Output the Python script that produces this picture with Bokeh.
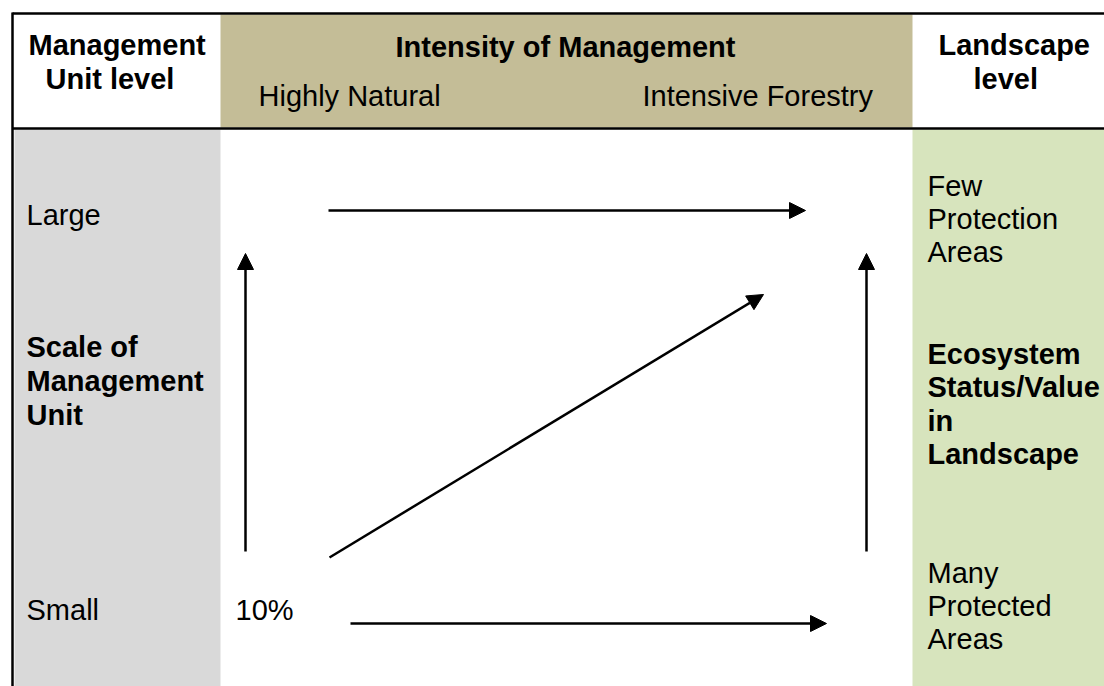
from bokeh.plotting import figure
from bokeh.models import Range1d, Arrow, NormalHead
from bokeh.core.properties import value
from bokeh.embed import file_html
from bokeh.resources import INLINE

# ---- content ----
header_left = ["Management", "Unit level"]
header_mid_title = "Intensity of Management"
header_mid_low = "Highly Natural"
header_mid_high = "Intensive Forestry"
header_right = ["Landscape", "level"]

left_top = "Large"
left_mid = ["Scale of", "Management", "Unit"]
left_bottom = "Small"
pct_label = "10%"

right_top = ["Few", "Protection", "Areas"]
right_mid = ["Ecosystem", "Status/Value", "in", "Landscape"]
right_bottom = ["Many", "Protected", "Areas"]

# arrows: (x_start, y_start, x_end, y_end) in page pixels
arrows_x0 = [328, 350, 245, 866, 329]
arrows_y0 = [210, 623, 551, 551, 557]
arrows_x1 = [805, 826, 245, 866, 763]
arrows_y1 = [210, 623, 253, 253, 294]

W, H = 1104, 686
p = figure(width=W, height=H, output_backend="svg", toolbar_location=None,
           x_range=Range1d(0, W), y_range=Range1d(H, 0),
           min_border=0)
p.axis.visible = False
p.grid.visible = False
p.outline_line_color = None
p.background_fill_color = "white"
p.border_fill_color = "white"

GRAY = "#d9d9d9"
TAN = "#c4bd97"
GREEN = "#d7e4bd"

# coloured regions
p.quad(left=[220], right=[912], top=[14], bottom=[127], fill_color=TAN, line_color=None)
p.quad(left=[14], right=[220], top=[129], bottom=[700], fill_color=GRAY, line_color=None)
p.quad(left=[912], right=[1110], top=[129], bottom=[700], fill_color=GREEN, line_color=None)

# border lines
p.segment(x0=[12, 12, 12], y0=[13, 128, 12], x1=[1110, 1110, 12], y1=[13, 128, 700],
          line_color="black", line_width=2.5)

FONT = value("Liberation Sans")
FS = "29px"
DY = 11  # baseline correction

def txt(xs, ys, texts, bold=False, align="left"):
    p.text(x=xs, y=[y - DY for y in ys], text=texts, text_font=FONT, text_font_size=FS,
           text_font_style="bold" if bold else "normal", text_color="black",
           text_align=align, text_baseline="alphabetic")

# header
txt([28, 45], [55, 89], header_left, bold=True)
txt([395], [57], [header_mid_title], bold=True)
txt([258], [106], [header_mid_low])
txt([642], [106], [header_mid_high])
txt([938, 973], [55, 89], header_right, bold=True)

# left column
txt([26], [225], [left_top])
txt([26, 26, 26], [357, 391, 425], left_mid, bold=True)
txt([26], [620], [left_bottom])
txt([235], [620], [pct_label])

# right column
txt([927] * 3, [196, 229, 262], right_top)
txt([927] * 4, [364, 397, 431, 464], right_mid, bold=True)
txt([927] * 3, [583, 616, 649], right_bottom)

# arrows
for x0, y0, x1, y1 in zip(arrows_x0, arrows_y0, arrows_x1, arrows_y1):
    p.add_layout(Arrow(x_start=x0, y_start=y0, x_end=x1, y_end=y1,
                       line_color="black", line_width=2.5,
                       end=NormalHead(size=16, fill_color="black", line_color="black", line_width=1)))

open("out.html", "w").write(file_html(p, INLINE))
